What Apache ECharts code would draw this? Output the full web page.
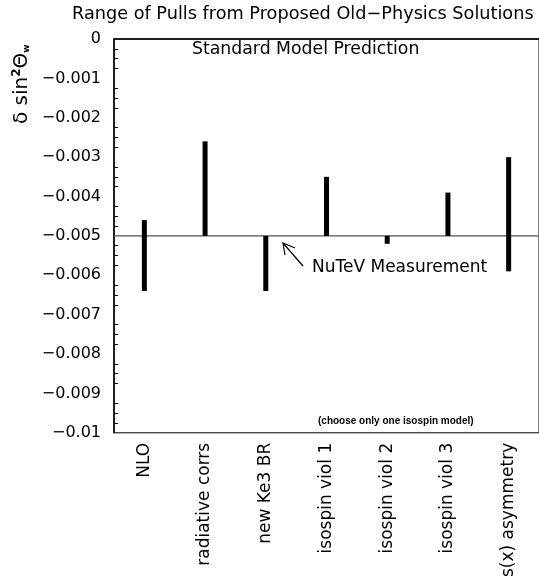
<!DOCTYPE html>
<html>
<head>
<meta charset="utf-8">
<script src="https://cdn.jsdelivr.net/npm/echarts@6/dist/echarts.min.js"></script>
<style>
  html, body { margin: 0; padding: 0; background: #fff; }
  #container { width: 539px; height: 580px; }
</style>
</head>
<body>
<div id="container"></div>
<script>
// categories and the range of each proposed pull (top, bottom)
const categories = ['NLO', 'radiative corrs', 'new Ke3 BR', 'isospin viol 1', 'isospin viol 2', 'isospin viol 3', 's(x) asymmetry'];
const rangeHigh = [-0.0046, -0.0026, -0.0050, -0.0035, -0.0050, -0.0039, -0.0030];
const rangeLow = [-0.0064, -0.0050, -0.0064, -0.0050, -0.0052, -0.0050, -0.0059];
const measurement = -0.005;

const FONT = 'DejaVu Sans';

const chartDom = document.getElementById('container');
const myChart = echarts.init(chartDom);

const option = {
  animation: false,
  backgroundColor: '#fff',
  grid: {
    left: 114,
    top: 39,
    width: 430,
    bottom: 147,
    show: true,
    borderColor: '#000',
    borderWidth: 1,
  },
  xAxis: {
    type: 'category',
    data: categories,
    boundaryGap: true,
    axisLine: { lineStyle: { color: '#000', width: 1.5 } },
    axisTick: { inside: true, length: 8, lineStyle: { color: '#000' } },
    axisLabel: {
      rotate: 90,
      margin: 10,
      color: '#000',
      fontFamily: FONT,
      fontSize: 17,
      interval: 0,
    },
    splitLine: { show: false },
  },
  yAxis: {
    type: 'value',
    min: -0.01,
    max: 0,
    interval: 0.001,
    axisLine: { show: true, lineStyle: { color: '#000', width: 1.5 } },
    axisTick: { inside: true, length: 7, lineStyle: { color: '#000' } },
    minorTick: { show: true, splitNumber: 4, length: 4, lineStyle: { color: '#000' } },
    splitLine: { show: false },
    axisLabel: {
      color: '#000',
      fontFamily: FONT,
      fontSize: 16,
      margin: 13,
      formatter: function (v) {
        if (Math.abs(v) < 1e-12) return '0';
        return '\u2212' + parseFloat(Math.abs(v).toFixed(4)).toString();
      },
    },
  },
  series: [
    {
      // NuTeV measurement reference line across the whole plot
      type: 'custom',
      data: [[0, measurement]],
      encode: { x: 0, y: 1 },
      silent: true,
      renderItem: function (params, api) {
        const cs = params.coordSys;
        const y = api.coord([0, api.value(1)])[1];
        return {
          type: 'line',
          shape: { x1: cs.x, y1: y, x2: cs.x + cs.width, y2: y },
          style: { stroke: '#555', lineWidth: 1.2 },
        };
      },
      z: 3,
    },
    {
      type: 'custom',
      data: categories.map((c, i) => [i, rangeHigh[i], rangeLow[i]]),
      encode: { x: 0, y: [1, 2] },
      renderItem: function (params, api) {
        const top = api.coord([api.value(0), api.value(1)]);
        const bottom = api.coord([api.value(0), api.value(2)]);
        const w = 5;
        return {
          type: 'rect',
          shape: { x: top[0] - w / 2, y: top[1], width: w, height: bottom[1] - top[1] },
          style: { fill: '#000' },
        };
      },
      z: 5,
    },
  ],
  graphic: [
    {
      type: 'text',
      left: 72,
      top: 5,
      style: {
        text: 'Range of Pulls from Proposed Old\u2212Physics Solutions',
        font: '17.7px "' + FONT + '"',
        fill: '#000',
      },
    },
    {
      type: 'text',
      left: 192,
      top: 41,
      style: {
        text: 'Standard Model Prediction',
        font: '17.3px "' + FONT + '"',
        fill: '#000',
      },
    },
    {
      type: 'text',
      left: 312,
      top: 259,
      style: {
        text: 'NuTeV Measurement',
        font: '17px "' + FONT + '"',
        fill: '#000',
      },
    },
    {
      type: 'text',
      left: 318,
      top: 416,
      style: {
        text: '(choose only one isospin model)',
        font: 'bold 10px "Liberation Sans"',
        fill: '#000',
      },
    },
    {
      type: 'line',
      shape: { x1: 303, y1: 266, x2: 283, y2: 243 },
      style: { stroke: '#000', lineWidth: 1.2 },
    },
    {
      type: 'polyline',
      shape: { points: [[285, 255], [283, 243], [295, 248]] },
      style: { stroke: '#000', lineWidth: 1.2, fill: null },
    },
    {
      type: 'text',
      x: 11,
      y: 124,
      rotation: Math.PI / 2,
      style: {
        text: '{a|\u03b4 sin}{s|2}{a|\u0398}{w|w}',
        rich: {
          a: { font: '20px "' + FONT + '"', fill: '#000' },
          s: { font: 'bold 12px "' + FONT + '"', fill: '#000', padding: [0, 0, 10, 0] },
          w: { font: 'bold 9px "' + FONT + '"', fill: '#000', padding: [10, 0, 0, 0] },
        },
      },
    },
  ],
};

myChart.setOption(option);
</script>
</body>
</html>
